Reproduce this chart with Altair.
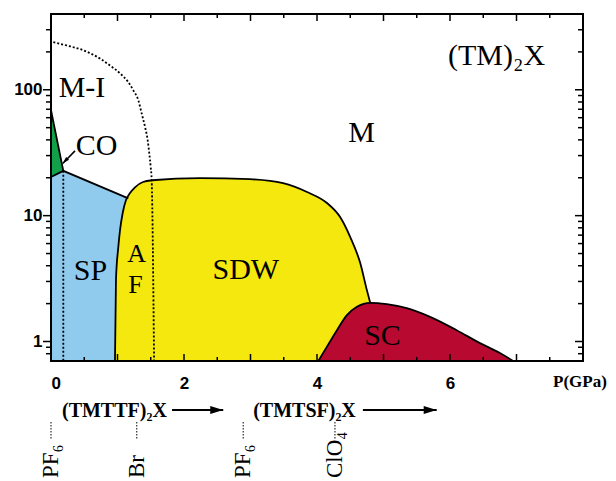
import altair as alt
import pandas as pd

W, H = 532, 347

# ---------------- data ----------------
P_DOMAIN = [0, 8]
T_DOMAIN = [0.7, 400]
T_FLOOR = T_DOMAIN[0]

# CO wedge (green)
co_P = [0.0, 0.185]
co_T_upper = [68.8, 22.7]
co_T_lower = [20.3, 22.7]

# SP region upper boundary (blue)
sp_P = [0.0, 0.185, 1.163]
sp_T = [20.3, 22.7, 13.7]

# AF + SDW outline (yellow)
sdw_P = [0.962, 0.977, 1.012, 1.038, 1.078, 1.128, 1.188, 1.263, 1.383, 1.519,
         2.24, 2.99, 3.49, 3.85, 4.15, 4.35, 4.50, 4.65, 4.75, 4.80]
sdw_T = [0.7, 3.08, 5.62, 7.67, 10.5, 13.3, 15.1, 16.8, 18.5, 19.1,
         19.9, 19.5, 18.1, 15.4, 12.6, 9.7, 6.75, 4.2, 2.56, 2.03]

# SC dome (red)
sc_P = [4.02, 4.15, 4.30, 4.45, 4.60, 4.80, 5.05, 5.35, 5.70, 6.10, 6.45, 6.75, 6.95]
sc_T = [0.7, 0.91, 1.23, 1.62, 1.89, 2.03, 1.98, 1.84, 1.57, 1.23, 0.97, 0.81, 0.7]

# M-I crossover (dotted)
mi_P = [0.035, 0.236, 0.486, 0.737, 0.887, 1.038, 1.162, 1.238, 1.313, 1.364,
        1.414, 1.454, 1.478, 1.499, 1.514, 1.55]
mi_T = [239, 225, 206, 177, 156, 135, 115, 99, 82.6, 64.7,
        50.7, 39.7, 31.2, 24.4, 19.1, 0.7]

# dotted vertical inside SP
spdot_P = [0.185, 0.185]
spdot_T = [22.7, 0.7]

# arrow pointing to CO
co_arrow_P = [0.361, 0.176]
co_arrow_T = [32.7, 26.0]

# region labels
region_labels = ["M-I", "CO", "M", "SP", "SDW", "SC"]
region_P = [0.466, 0.684, 4.67, 0.594, 2.93, 4.985]
region_T = [87.2, 30.2, 38.3, 3.08, 3.13, 0.94]
af_labels = ["A", "F"]
af_P = [1.286, 1.27]
af_T = [4.28, 2.43]
title_labels = ["(TM)₂X"]
title_P = [5.97]
title_T = [156]

# compounds under the axis
family_labels = ["(TMTTF)₂X", "(TMTSF)₂X"]
family_P = [0.165, 3.04]
family_arrow_start = [1.82, 4.69]
family_arrow_tip = [2.59, 5.80]
anion_labels = ["PF₆", "Br", "PF₆", "ClO₄"]
anion_P = [0.0, 1.29, 2.89, 4.27]

# axis ticks
x_labels = [0, 2, 4, 6]
x_major = [1, 2, 3, 4, 5, 6, 7]
x_minor = [0.5, 1.5, 2.5, 3.5, 4.5, 5.5, 6.5, 7.5]
y_major = [1, 10, 100]
y_minor = [0.8, 0.9, 2, 3, 4, 5, 6, 7, 8, 9, 20, 30, 40, 50, 60, 70, 80, 90, 200, 300]

# ---------------- styles ----------------
BLUE = "#90cbee"
GREEN = "#12a04b"
YELLOW = "#f4e80f"
RED = "#b80a30"
SERIF = "Liberation Serif"
SANS = "Liberation Sans"

xscale = alt.Scale(domain=P_DOMAIN, nice=False, zero=False)
yscale = alt.Scale(type="log", domain=T_DOMAIN, nice=False)
xaxis = alt.Axis(values=x_labels, ticks=False, domain=False, grid=False, title=None,
                 labelFont=SANS, labelFontWeight="bold", labelFontSize=17,
                 labelColor="black", labelPadding=14)
yaxis = alt.Axis(values=y_major, ticks=False, domain=False, grid=False, title=None,
                 labelFont=SANS, labelFontWeight="bold", labelFontSize=17,
                 labelColor="black", labelPadding=9, format="d")


def X(f="P"):
    return alt.X(f"{f}:Q", scale=xscale, axis=xaxis)


def Y(f="T"):
    return alt.Y(f"{f}:Q", scale=yscale, axis=yaxis)


def df_line(P, T):
    return pd.DataFrame({"P": P, "T": T, "Tb": [T_FLOOR] * len(P), "i": list(range(len(P)))})


layers = []

# filled regions
layers.append(alt.Chart(df_line(sp_P, sp_T)).mark_area(color=BLUE, opacity=1)
              .encode(x=X(), y=Y(), y2=alt.Y2("Tb:Q")))
layers.append(alt.Chart(pd.DataFrame({"P": co_P, "Tu": co_T_upper, "Tl": co_T_lower}))
              .mark_area(color=GREEN, opacity=1)
              .encode(x=X(), y=Y("Tu"), y2=alt.Y2("Tl:Q")))
layers.append(alt.Chart(df_line(sdw_P, sdw_T)).mark_area(color=YELLOW, opacity=1, interpolate="monotone")
              .encode(x=X(), y=Y(), y2=alt.Y2("Tb:Q")))
layers.append(alt.Chart(df_line(sc_P, sc_T)).mark_area(color=RED, opacity=1, interpolate="monotone")
              .encode(x=X(), y=Y(), y2=alt.Y2("Tb:Q")))

# solid boundaries
solid = dict(color="black", strokeWidth=1.8)
layers.append(alt.Chart(df_line(co_P, co_T_upper)).mark_line(**solid)
              .encode(x=X(), y=Y(), order=alt.Order("i:Q")))
layers.append(alt.Chart(df_line(sp_P, sp_T)).mark_line(**solid)
              .encode(x=X(), y=Y(), order=alt.Order("i:Q")))
layers.append(alt.Chart(df_line(sdw_P, sdw_T)).mark_line(interpolate="monotone", **solid)
              .encode(x=X(), y=Y(), order=alt.Order("i:Q")))
layers.append(alt.Chart(df_line(sc_P, sc_T)).mark_line(interpolate="monotone", **solid)
              .encode(x=X(), y=Y(), order=alt.Order("i:Q")))

# dotted lines
dotted = dict(color="black", strokeWidth=1.8, strokeDash=[2, 2])
layers.append(alt.Chart(df_line(mi_P, mi_T)).mark_line(interpolate="monotone", **dotted)
              .encode(x=X(), y=Y(), order=alt.Order("i:Q")))
layers.append(alt.Chart(df_line(spdot_P, spdot_T)).mark_line(**dotted)
              .encode(x=X(), y=Y(), order=alt.Order("i:Q")))

# arrow to CO
ARROW = "M-2,-0.6L0,0L-2,0.6Z"
layers.append(alt.Chart(df_line(co_arrow_P, co_arrow_T)).mark_line(color="black", strokeWidth=1.5)
              .encode(x=X(), y=Y(), order=alt.Order("i:Q")))
layers.append(alt.Chart(pd.DataFrame({"P": co_arrow_P[1:], "T": co_arrow_T[1:]}))
              .mark_point(shape=ARROW, filled=True, size=49, angle=134, color="black", opacity=1, strokeWidth=0)
              .encode(x=X(), y=Y()))

# ticks (all four sides)
def tick_layer(vals, side, length):
    if side in ("left", "right"):
        d = pd.DataFrame({"T": vals})
        if side == "left":
            xx, xx2 = 0, -length
        else:
            xx, xx2 = W, W - length
        return alt.Chart(d).mark_rule(color="black", strokeWidth=1.5).encode(
            y=Y(), x=alt.value(xx), x2=alt.value(xx2))
    d = pd.DataFrame({"P": vals})
    if side == "top":
        yy, yy2 = 0, length
    else:
        yy, yy2 = H, H - length
    return alt.Chart(d).mark_rule(color="black", strokeWidth=1.5).encode(
        x=X(), y=alt.value(yy), y2=alt.value(yy2))

layers += [tick_layer(y_major, "left", 8), tick_layer(y_minor, "left", 5),
           tick_layer(y_major, "right", 8), tick_layer(y_minor, "right", 5),
           tick_layer(x_major, "top", 7), tick_layer(x_minor, "top", 4),
           tick_layer(x_major, "bottom", 7), tick_layer(x_minor, "bottom", 4)]

# frame
layers.append(alt.Chart(pd.DataFrame({"k": [0]})).mark_rect(fillOpacity=0, stroke="black", strokeWidth=2)
              .encode(x=alt.value(0), x2=alt.value(W), y=alt.value(0), y2=alt.value(H)))

# region labels
layers.append(alt.Chart(pd.DataFrame({"P": region_P, "T": region_T, "label": region_labels}))
              .mark_text(font=SERIF, fontSize=30, align="center", baseline="alphabetic", color="black")
              .encode(x=X(), y=Y(), text="label:N"))
layers.append(alt.Chart(pd.DataFrame({"P": af_P, "T": af_T, "label": af_labels}))
              .mark_text(font=SERIF, fontSize=26, align="center", baseline="alphabetic", color="black")
              .encode(x=X(), y=Y(), text="label:N"))
layers.append(alt.Chart(pd.DataFrame({"P": title_P, "T": title_T, "label": title_labels}))
              .mark_text(font=SERIF, fontSize=30, align="left", baseline="alphabetic", color="black")
              .encode(x=X(), y=Y(), text="label:N"))

# P(GPa) axis title
layers.append(alt.Chart(pd.DataFrame({"P": [7.55], "label": ["P(GPa)"]}))
              .mark_text(font=SERIF, fontSize=17, fontWeight="bold", align="left", baseline="alphabetic", color="black")
              .encode(x=X(), y=alt.value(373), text="label:N"))

# compound families under the axis
layers.append(alt.Chart(pd.DataFrame({"P": family_P, "label": family_labels}))
              .mark_text(font=SERIF, fontSize=20, fontWeight="bold", align="left", baseline="alphabetic", color="black")
              .encode(x=X(), y=alt.value(403), text="label:N"))
layers.append(alt.Chart(pd.DataFrame({"P0": family_arrow_start, "P1": family_arrow_tip}))
              .mark_rule(color="black", strokeWidth=2)
              .encode(x=alt.X("P0:Q", scale=xscale, axis=xaxis), x2="P1:Q", y=alt.value(396)))
layers.append(alt.Chart(pd.DataFrame({"P": family_arrow_tip}))
              .mark_point(shape=ARROW, filled=True, size=169, color="black", opacity=1, strokeWidth=0)
              .encode(x=X(), y=alt.value(396)))

# anion markers
layers.append(alt.Chart(pd.DataFrame({"P": anion_P}))
              .mark_rule(color="black", strokeWidth=1, strokeDash=[1.5, 1.5])
              .encode(x=X(), y=alt.value(408), y2=alt.value(426)))
layers.append(alt.Chart(pd.DataFrame({"P": anion_P, "label": anion_labels}))
              .mark_text(font=SERIF, fontSize=23, angle=270, align="left", baseline="middle", color="black")
              .encode(x=X(), y=alt.value(464), text="label:N"))

chart = alt.layer(*layers).properties(
    width=W, height=H,
    padding={"left": 51, "top": 14, "right": 33, "bottom": 120},
    autosize=alt.AutoSizeParams(type="none"),
    background="white",
).configure_view(strokeWidth=0)

chart.save("out.html", embed_options={"renderer": "svg", "actions": False})
